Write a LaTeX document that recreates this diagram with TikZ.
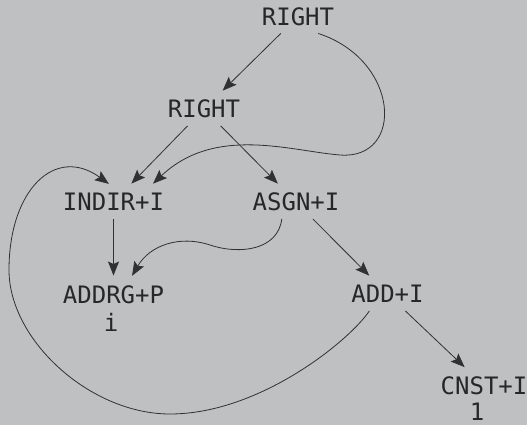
\documentclass[tikz,border=0pt]{standalone}
\usepackage{fontspec}
\setmonofont{DejaVu Sans Mono}
\usetikzlibrary{arrows.meta}
\definecolor{Paper}{HTML}{BFC0C2}
\definecolor{Ink}{HTML}{262728}
\definecolor{Wire}{HTML}{303132}

\begin{document}
\begin{tikzpicture}[
    x=1pt, y=-1pt,
    op/.style={
      font=\ttfamily\fontsize{24}{30}\selectfont,
      text=Ink,
      text height=17.5pt,
      text depth=0pt,
      inner xsep=4pt,
      inner ysep=8pt
    },
    val/.style={
      font=\ttfamily\fontsize{24}{30}\selectfont,
      text=Ink,
      anchor=base,
      inner sep=0pt
    },
    edge/.style={
      draw=Wire,
      line width=0.8pt,
      shorten >=2pt,
      -{Stealth[length=14pt,width=11pt,inset=2.5pt]}
    }
  ]
  \fill[Paper] (0,0) rectangle (527,425);
  \useasboundingbox (0,0) rectangle (527,425);

  \node[op] (right) at (298,16.5) {RIGHT};
  \node[op] (rightb) at (204,109) {RIGHT};
  \node[op] (indir) at (113.5,202) {INDIR+I};
  \node[op] (asgn) at (296,202) {ASGN+I};
  \node[op] (addrg) at (113.5,294.5) {ADDRG+P};
  \node[val] (addrgsym) at (111,331) {i};
  \node[op] (add) at (387.5,294) {ADD+I};
  \node[op] (cnst) at (484,385.5) {CNST+I};
  \node[val] (cnstval) at (477,420) {1};

  \draw[edge] (right) -- (rightb);
  \draw[edge] (rightb) -- (indir);
  \draw[edge] (rightb) -- (asgn);
  \draw[edge] (indir) -- (addrg);
  \draw[edge] (asgn) -- (add);
  \draw[edge] (add) -- (cnst);

  \draw[edge] (right.-40) .. controls (400,60) and (405,160) .. (340,155)
    .. controls (290,151) and (215,125) .. (indir.24);
  \draw[edge] (asgn.-130) .. controls (278,250) and (240,255) .. (210,245)
    .. controls (180,235) and (150,245) .. (addrg.44);
  \draw[edge] (add.-137) .. controls (350,340) and (260,414) .. (170,414)
    .. controls (90,414) and (9,340) .. (9,270)
    .. controls (9,190) and (55,145) .. (indir.100);
\end{tikzpicture}
\end{document}
